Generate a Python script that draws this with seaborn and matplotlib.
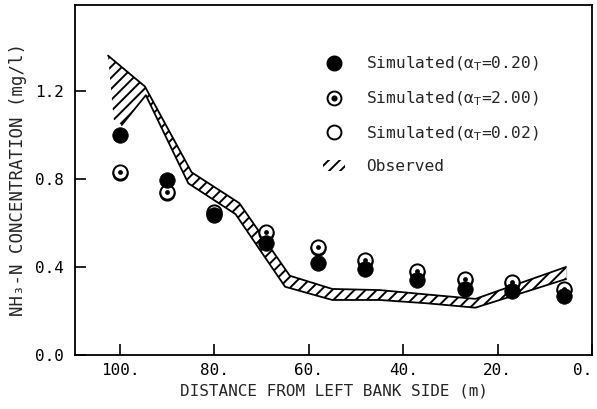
import matplotlib
matplotlib.use("Agg")
import matplotlib.pyplot as plt
import seaborn as sns
import numpy as np
from matplotlib.lines import Line2D
from matplotlib.patches import Patch

# ---------------- data ----------------
distance = [100, 90, 80, 69, 58, 48, 37, 27, 17, 6]
sim_a020 = [1.00, 0.795, 0.635, 0.51, 0.42, 0.39, 0.34, 0.30, 0.29, 0.27]
sim_a200 = [0.83, 0.74, 0.65, 0.56, 0.49, 0.43, 0.38, 0.345, 0.33, 0.30]
sim_a002 = [0.825, 0.735, 0.645, 0.555, 0.485, 0.425, 0.375, 0.34, 0.325, 0.295]

obs_upper_x = [102.5, 94.7, 84.8, 74.7, 64.0, 55.0, 45.0, 35.0, 24.7, 5.5]
obs_upper_y = [1.36, 1.22, 0.83, 0.69, 0.36, 0.30, 0.295, 0.275, 0.255, 0.40]
obs_lower_x = [101.3, 99.6, 94.5, 85.5, 75.5, 65.0, 55.0, 45.0, 35.0, 24.7, 5.5]
obs_lower_y = [1.07, 1.045, 1.18, 0.78, 0.64, 0.31, 0.25, 0.25, 0.235, 0.215, 0.345]

x_ticks = [100, 80, 60, 40, 20, 0]
x_tick_labels = ["100.", "80.", "60.", "40.", "20.", "0."]
y_ticks = [0.0, 0.4, 0.8, 1.2]
y_tick_labels = ["0.0", "0.4", "0.8", "1.2"]

labels = ["Simulated(\u03b1$_{\\mathrm{T}}$=0.20)",
          "Simulated(\u03b1$_{\\mathrm{T}}$=2.00)",
          "Simulated(\u03b1$_{\\mathrm{T}}$=0.02)",
          "Observed"]

# ---------------- style ----------------
sns.set_style("ticks")
plt.rcParams["font.family"] = ["DejaVu Sans Mono", "DejaVu Sans"]
plt.rcParams["mathtext.fontset"] = "dejavusans"
plt.rcParams["hatch.linewidth"] = 1.4
plt.rcParams["hatch.color"] = "black"

fig = plt.figure(figsize=(5.97, 4.09), dpi=100)
ax = fig.add_axes([75 / 597, 54 / 409, 517 / 597, 350 / 409])

# observed band (polygon from upper and reversed lower boundaries)
poly_x = list(obs_upper_x) + list(obs_lower_x[::-1])
poly_y = list(obs_upper_y) + list(obs_lower_y[::-1])
ax.fill(poly_x, poly_y, facecolor="white", edgecolor="black",
        hatch="///", linewidth=0, zorder=2)
sns.lineplot(x=obs_upper_x, y=obs_upper_y, sort=False, color="black",
             linewidth=1.3, ax=ax, zorder=2.5)
sns.lineplot(x=obs_lower_x[1:], y=obs_lower_y[1:], sort=False, color="black",
             linewidth=1.3, ax=ax, zorder=2.5)
sns.lineplot(x=[obs_upper_x[-1], obs_lower_x[-1]],
             y=[obs_upper_y[-1], obs_lower_y[-1]], sort=False, color="black",
             linewidth=1.0, ax=ax, zorder=2.5)

# simulated points
sns.scatterplot(x=distance, y=sim_a002, marker="o", s=105, color="white",
                edgecolor="black", linewidth=1.4, ax=ax, zorder=3, legend=False)
sns.scatterplot(x=distance, y=sim_a200, marker="o", s=105, color="white",
                edgecolor="black", linewidth=1.4, ax=ax, zorder=4, legend=False)
sns.scatterplot(x=distance, y=sim_a200, marker="o", s=12, color="black",
                edgecolor="black", linewidth=0, ax=ax, zorder=5, legend=False)
sns.scatterplot(x=distance, y=sim_a020, marker="o", s=125, color="black",
                edgecolor="black", linewidth=0.5, ax=ax, zorder=6, legend=False)

# axes
ax.set_xlim(109.5, 0)
ax.set_ylim(0, 1.59)
ax.set_xticks(x_ticks)
ax.set_xticklabels(x_tick_labels)
ax.set_yticks(y_ticks)
ax.set_yticklabels(y_tick_labels)
ax.tick_params(axis="both", direction="in", length=8, width=1.2,
               labelsize=11.5, colors="black")
ax.tick_params(axis="x", pad=6)
ax.tick_params(axis="y", pad=8)
ax.get_xticklabels()[-1].set_horizontalalignment("right")
for sp in ax.spines.values():
    sp.set_visible(True)
    sp.set_linewidth(1.3)
    sp.set_color("black")

ax.set_xlabel("DISTANCE FROM LEFT BANK SIDE (m)", fontsize=11.5, labelpad=4)
ax.set_ylabel("NH\u2083-N CONCENTRATION (mg/l)", fontsize=12.5, labelpad=6)

# legend
h_filled = Line2D([], [], ls="none", marker="o", markersize=10.5,
                  mfc="black", mec="black")
h_ring = Line2D([], [], ls="none", marker="o", markersize=10,
                mfc="white", mec="black", mew=1.4)
h_dot = Line2D([], [], ls="none", marker="o", markersize=3.4,
               mfc="black", mec="black")
h_open = Line2D([], [], ls="none", marker="o", markersize=10,
                mfc="white", mec="black", mew=1.4)
h_obs = Patch(facecolor="white", edgecolor="black", hatch="///", linewidth=0)
ax.legend([h_filled, (h_ring, h_dot), h_open, h_obs], labels,
          loc="upper left", bbox_to_anchor=(0.48, 0.857), frameon=False,
          fontsize=11.7, handlelength=1.35, handletextpad=1.3,
          labelspacing=1.0, borderpad=0, borderaxespad=0)

fig.savefig("out.png", dpi=100)
